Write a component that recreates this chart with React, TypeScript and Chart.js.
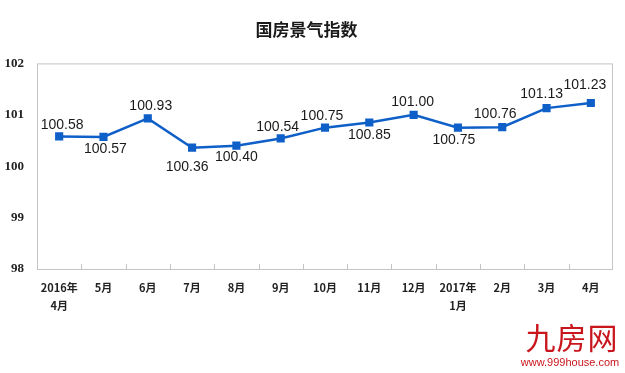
import React, { useEffect, useRef } from "react";
import { Chart, registerables } from "chart.js";

Chart.register(...registerables);

const TITLE = "国房景气指数";
const CATEGORIES: string[][] = [
  ["2016年", "4月"], ["5月"], ["6月"], ["7月"], ["8月"], ["9月"], ["10月"],
  ["11月"], ["12月"], ["2017年", "1月"], ["2月"], ["3月"], ["4月"],
];
const VALUES = [100.58, 100.57, 100.93, 100.36, 100.4, 100.54, 100.75, 100.85, 101.0, 100.75, 100.76, 101.13, 101.23];
const Y_MIN = 98;
const Y_MAX = 102;
const Y_STEP = 1;
// label placement offsets (dx, dy) relative to each point
const LABEL_OFFSETS: [number, number][] = [
  [3, -11], [2, 12], [3, -12], [-5, 19], [0, 12], [-3, -11], [-3, -12],
  [0, 13], [-1, -13], [-4, 12], [-7, -13], [-5, -14], [-6, -18],
];

const LINE_COLOR = "#0f5fc8";
const AXIS_COLOR = "#c4c4c4";

const framePlugin = {
  id: "frame",
  afterDraw(chart: any) {
    const { ctx, chartArea } = chart;
    const xs = chart.scales.x;
    ctx.save();
    ctx.strokeStyle = AXIS_COLOR;
    ctx.lineWidth = 1;
    ctx.strokeRect(chartArea.left + 0.5, chartArea.top + 0.5, chartArea.right - chartArea.left - 1, chartArea.bottom - chartArea.top);
    ctx.beginPath();
    for (let i = 0; i < CATEGORIES.length - 1; i++) {
      const x = Math.round((xs.getPixelForValue(i) + xs.getPixelForValue(i + 1)) / 2) + 0.5;
      ctx.moveTo(x, chartArea.bottom);
      ctx.lineTo(x, chartArea.bottom - 5);
    }
    ctx.stroke();
    ctx.restore();
  },
};

const labelPlugin = {
  id: "valueLabels",
  afterDatasetsDraw(chart: any) {
    const { ctx } = chart;
    const meta = chart.getDatasetMeta(0);
    ctx.save();
    ctx.font = "14px 'Liberation Sans', Arial, sans-serif";
    ctx.fillStyle = "#1a1a1a";
    ctx.textAlign = "center";
    ctx.textBaseline = "middle";
    meta.data.forEach((pt: any, i: number) => {
      const [dx, dy] = LABEL_OFFSETS[i];
      ctx.fillText(VALUES[i].toFixed(2), pt.x + dx, pt.y + dy);
    });
    ctx.restore();
  },
};

export default function App() {
  const ref = useRef<HTMLCanvasElement | null>(null);
  useEffect(() => {
    if (!ref.current) return;
    const chart = new Chart(ref.current, {
      type: "line",
      data: {
        labels: CATEGORIES,
        datasets: [
          {
            data: VALUES,
            borderColor: LINE_COLOR,
            backgroundColor: LINE_COLOR,
            borderWidth: 2.5,
            pointStyle: "rect",
            pointRadius: 4,
            pointHoverRadius: 4,
            tension: 0,
          },
        ],
      },
      plugins: [framePlugin, labelPlugin],
      options: {
        animation: false,
        responsive: false,
        maintainAspectRatio: false,
        layout: { padding: { left: 0, right: 12, top: 0, bottom: 0 } },
        plugins: {
          legend: { display: false },
          tooltip: { enabled: false },
          title: {
            display: true,
            text: TITLE,
            color: "#1a1a1a",
            font: { family: "'Noto Sans CJK SC', sans-serif", size: 17, weight: "bold" },
            padding: { top: 19, bottom: 24 },
          },
        },
        scales: {
          x: {
            type: "category",
            offset: true,
            grid: { display: false, drawTicks: false },
            border: { display: false },
            ticks: {
              color: "#222",
              font: { family: "'Noto Sans CJK SC', sans-serif", size: 11, weight: "bold", lineHeight: 1.6 },
              padding: 10,
              maxRotation: 0,
              autoSkip: false,
            },
            afterFit(scale: any) {
              scale.height = 104;
            },
          },
          y: {
            min: Y_MIN,
            max: Y_MAX,
            grid: { display: false, drawTicks: false },
            border: { display: false },
            ticks: {
              stepSize: Y_STEP,
              color: "#222",
              font: { family: "'Liberation Serif', 'Times New Roman', serif", size: 13, weight: "bold" },
              padding: 13,
            },
            afterFit(scale: any) {
              scale.width = 37;
            },
          },
        },
      },
    });
    return () => chart.destroy();
  }, []);

  return (
    <div style={{ position: "fixed", left: 0, top: 0, width: 625, height: 373, background: "#fff" }}>
      <canvas ref={ref} width={625} height={373} style={{ display: "block" }} />
      <div
        style={{
          position: "absolute",
          left: 524,
          top: 318,
          width: 96,
          textAlign: "center",
          color: "#c9161d",
          fontFamily: "'Noto Sans CJK SC', sans-serif",
          fontSize: 30,
          lineHeight: "36px",
          letterSpacing: 1,
        }}
      >
        九房网
      </div>
      <div
        style={{
          position: "absolute",
          left: 518,
          top: 355,
          width: 104,
          textAlign: "center",
          color: "#c9161d",
          fontFamily: "'Liberation Sans', Arial, sans-serif",
          fontSize: 11,
          lineHeight: "14px",
        }}
      >
        www.999house.com
      </div>
    </div>
  );
}
